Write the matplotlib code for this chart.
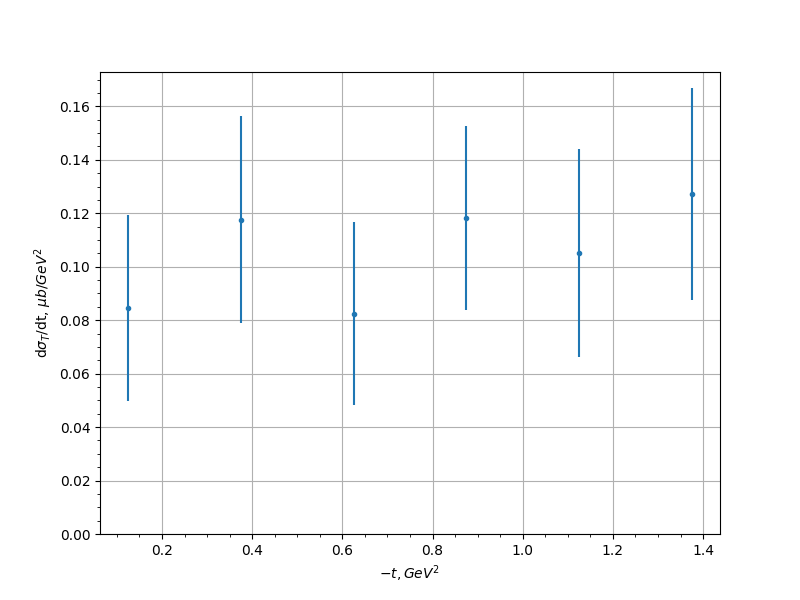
import matplotlib
matplotlib.use("Agg")
import matplotlib.pyplot as plt

t_vals = [0.125, 0.375, 0.625, 0.875, 1.125, 1.375]
dsigma = [0.0846, 0.1176, 0.0824, 0.1183, 0.1052, 0.1273]
dsigma_err = [0.0347, 0.0386, 0.0343, 0.0345, 0.0390, 0.0396]

fig, ax = plt.subplots(figsize=(8, 6), dpi=100)
ax.errorbar(t_vals, dsigma, yerr=dsigma_err, fmt='.')
ax.set_ylim(bottom=0)
ax.minorticks_on()
ax.grid()
ax.set_xlabel(r'$-t, GeV^2$')
ax.set_ylabel(r'd$\sigma_T$/dt, $\mu b/GeV^2$')

fig.savefig('out.png')
